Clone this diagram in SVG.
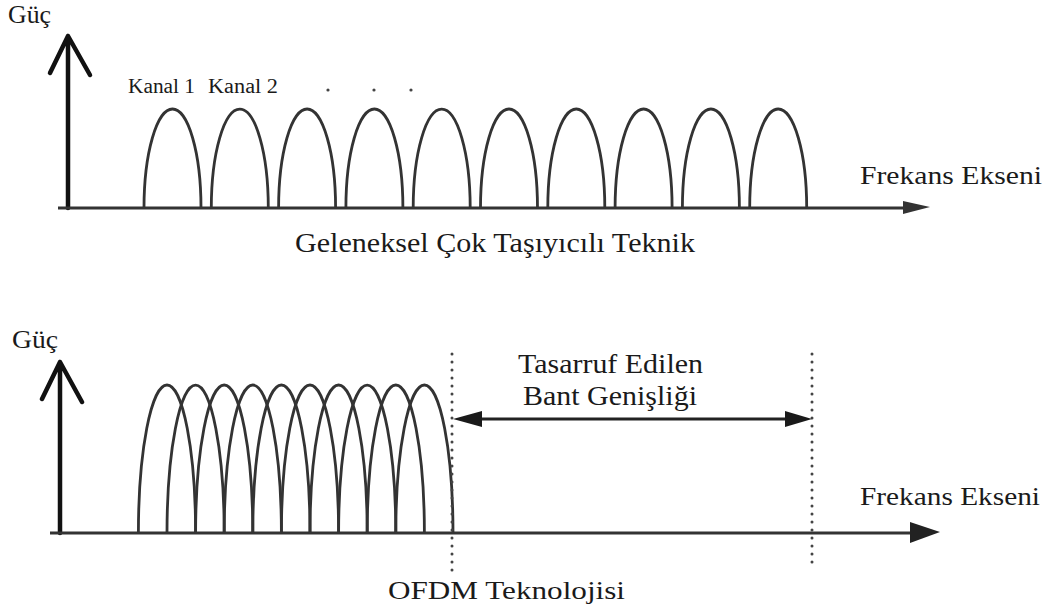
<svg xmlns="http://www.w3.org/2000/svg" width="1048" height="612" viewBox="0 0 1048 612">
<style>
.t{font-family:"Liberation Serif","Times New Roman",serif;fill:#1a1a1a}
.axis{stroke:#111;stroke-width:4.5;fill:none;stroke-linecap:round;stroke-linejoin:round}
.hax{stroke:#333;stroke-width:3;fill:none}
.lobe{stroke:#333;stroke-width:2.8;fill:none}
.dot{stroke:#444;stroke-width:3;stroke-linecap:round;stroke-dasharray:0 8;fill:none}
</style>
<rect width="1048" height="612" fill="#fff"/>

<g id="top-chart">
  <text class="t" x="8" y="23" font-size="26" textLength="43" lengthAdjust="spacingAndGlyphs">Güç</text>
  <path class="axis" d="M68 208 V36 M50 73 L68 36 L90 75"/>
  <line class="hax" x1="58" y1="208" x2="906" y2="208"/>
  <path d="M930 207 L903 201 L903 214 Z" fill="#333"/>
  <text class="t" x="128" y="93" font-size="20" textLength="67" lengthAdjust="spacingAndGlyphs">Kanal 1</text>
  <text class="t" x="208" y="93" font-size="20" textLength="70" lengthAdjust="spacingAndGlyphs">Kanal 2</text>
  <g fill="#444">
    <circle cx="328" cy="90" r="1.6"/>
    <circle cx="374" cy="90" r="1.6"/>
    <circle cx="411" cy="90" r="1.6"/>
  </g>
  <g id="top-lobes">
    <path class="lobe" d="M144 208 A28.5 99 0 0 1 201 208"/>
    <path class="lobe" d="M211.3 208 A28.5 99 0 0 1 268.3 208"/>
    <path class="lobe" d="M278.6 208 A28.5 99 0 0 1 335.6 208"/>
    <path class="lobe" d="M345.9 208 A28.5 99 0 0 1 402.9 208"/>
    <path class="lobe" d="M413.2 208 A28.5 99 0 0 1 470.2 208"/>
    <path class="lobe" d="M480.5 208 A28.5 99 0 0 1 537.5 208"/>
    <path class="lobe" d="M547.8 208 A28.5 99 0 0 1 604.8 208"/>
    <path class="lobe" d="M615.1 208 A28.5 99 0 0 1 672.1 208"/>
    <path class="lobe" d="M682.4 208 A28.5 99 0 0 1 739.4 208"/>
    <path class="lobe" d="M749.7 208 A28.5 99 0 0 1 806.7 208"/>
  </g>
  <text class="t" x="860" y="184" font-size="26" textLength="182" lengthAdjust="spacingAndGlyphs">Frekans Ekseni</text>
  <text class="t" x="295" y="252" font-size="28" textLength="400" lengthAdjust="spacingAndGlyphs">Geleneksel Çok Taşıyıcılı Teknik</text>
</g>

<g id="bottom-chart">
  <text class="t" x="12" y="348" font-size="26" textLength="46" lengthAdjust="spacingAndGlyphs">Güç</text>
  <path class="axis" d="M60 533 V362 M42 399 L60 362 L82 402"/>
  <line class="hax" x1="50" y1="533" x2="915" y2="533"/>
  <path d="M940 532 L910 522 L910 543 Z" fill="#222"/>
  <g id="ofdm-lobes">
    <path class="lobe" d="M138.4 533 A28.6 148 0 0 1 195.6 533"/>
    <path class="lobe" d="M167 533 A28.6 148 0 0 1 224.2 533"/>
    <path class="lobe" d="M195.6 533 A28.6 148 0 0 1 252.8 533"/>
    <path class="lobe" d="M224.2 533 A28.6 148 0 0 1 281.4 533"/>
    <path class="lobe" d="M252.8 533 A28.6 148 0 0 1 310 533"/>
    <path class="lobe" d="M281.4 533 A28.6 148 0 0 1 338.6 533"/>
    <path class="lobe" d="M310 533 A28.6 148 0 0 1 367.2 533"/>
    <path class="lobe" d="M338.6 533 A28.6 148 0 0 1 395.8 533"/>
    <path class="lobe" d="M367.2 533 A28.6 148 0 0 1 424.4 533"/>
    <path class="lobe" d="M395.8 533 A28.6 148 0 0 1 453 533"/>
  </g>
  <line class="dot" x1="452" y1="354" x2="452" y2="574"/>
  <line class="dot" x1="812" y1="354" x2="812" y2="570"/>
  <g id="saved-bandwidth">
    <line x1="478" y1="419" x2="788" y2="419" stroke="#222" stroke-width="3"/>
    <path d="M453 419 L482 411 L482 427 Z" fill="#1a1a1a"/>
    <path d="M812 419 L785 411 L785 427 Z" fill="#1a1a1a"/>
    <text class="t" x="518" y="373" font-size="28" textLength="185" lengthAdjust="spacingAndGlyphs">Tasarruf Edilen</text>
    <text class="t" x="523" y="405" font-size="28" textLength="174" lengthAdjust="spacingAndGlyphs">Bant Genişliği</text>
  </g>
  <text class="t" x="860" y="505" font-size="26" textLength="180" lengthAdjust="spacingAndGlyphs">Frekans Ekseni</text>
  <text class="t" x="388" y="599" font-size="25" textLength="237" lengthAdjust="spacingAndGlyphs">OFDM Teknolojisi</text>
</g>
</svg>
